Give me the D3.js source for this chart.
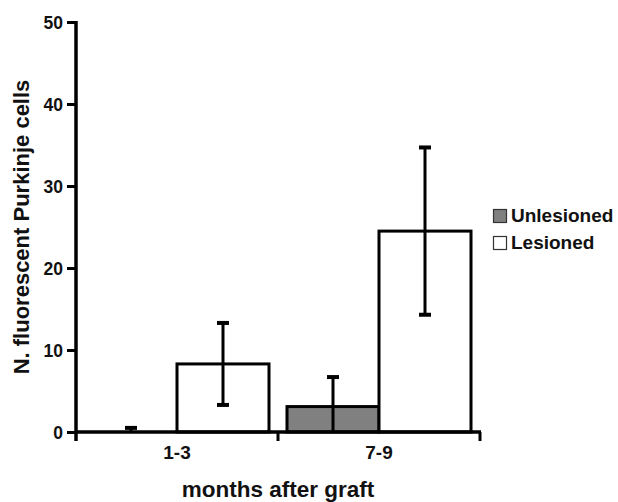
<!DOCTYPE html>
<html>
<head>
<meta charset="utf-8">
<script src="https://cdn.jsdelivr.net/npm/d3@7"></script>
<style>
  html, body { margin: 0; padding: 0; background: #fff; }
  svg { display: block; }
  text { font-family: "Liberation Sans", Arial, Helvetica, sans-serif; font-weight: bold; fill: #111; }
</style>
</head>
<body>
<svg id="chart" width="618" height="502"></svg>
<script>
const categories = ["1-3", "7-9"];
const seriesNames = ["Unlesioned", "Lesioned"];
const unlesionedValues = [0, 3.1];
const unlesionedErrors = [0.5, 3.6];
const lesionedValues = [8.3, 24.5];
const lesionedErrors = [5.0, 10.2];
const yTicks = [0, 10, 20, 30, 40, 50];
const seriesColors = ["#808080", "#ffffff"];

const series = [
  { name: seriesNames[0], values: unlesionedValues, errors: unlesionedErrors, color: seriesColors[0] },
  { name: seriesNames[1], values: lesionedValues, errors: lesionedErrors, color: seriesColors[1] }
];

const svg = d3.select("#chart");
const plotLeft = 76, plotRight = 480, plotTop = 22, plotBottom = 432;

const y = d3.scaleLinear().domain([0, 50]).range([plotBottom, plotTop]);
const x0 = d3.scaleBand().domain(categories).range([plotLeft, plotRight]).paddingInner(0).paddingOuter(0);
const x1 = d3.scaleBand().domain(seriesNames).range([9, x0.bandwidth() - 9]).padding(0);

// bars
series.forEach(s => {
  svg.append("g").selectAll("rect")
    .data(categories.map((c, i) => ({ c, v: s.values[i] })).filter(d => d.v > 0))
    .join("rect")
    .attr("x", d => x0(d.c) + x1(s.name))
    .attr("width", x1.bandwidth())
    .attr("y", d => y(d.v))
    .attr("height", d => plotBottom - y(d.v))
    .attr("fill", s.color)
    .attr("stroke", "#000")
    .attr("stroke-width", 3);
});

// error bars
const capW = 12;
series.forEach(s => {
  categories.forEach((c, i) => {
    const cx = x0(c) + x1(s.name) + x1.bandwidth() / 2;
    const v = s.values[i], e = s.errors[i];
    const lo = Math.max(0, v - e), hi = v + e;
    const g = svg.append("g").attr("stroke", "#000").attr("stroke-width", 3);
    g.append("line").attr("x1", cx).attr("x2", cx).attr("y1", y(lo)).attr("y2", y(hi));
    g.append("line").attr("x1", cx - capW / 2).attr("x2", cx + capW / 2).attr("y1", y(hi)).attr("y2", y(hi)).attr("stroke-width", 4);
    if (v - e > 0) {
      g.append("line").attr("x1", cx - capW / 2).attr("x2", cx + capW / 2).attr("y1", y(lo)).attr("y2", y(lo)).attr("stroke-width", 4);
    }
  });
});

// y axis
const yAxis = svg.append("g")
  .attr("transform", `translate(${plotLeft},0)`)
  .call(d3.axisLeft(y).tickValues(yTicks).tickSize(9).tickSizeOuter(0).tickPadding(4));
yAxis.select(".domain").remove();
yAxis.selectAll(".tick line").attr("stroke", "#000").attr("stroke-width", 3);
yAxis.selectAll(".tick text").style("font-size", "17.5px").attr("dy", "0.36em");
svg.append("line").attr("x1", plotLeft).attr("x2", plotLeft).attr("y1", plotTop - 1).attr("y2", plotBottom + 9)
  .attr("stroke", "#000").attr("stroke-width", 3.5);

// x axis
svg.append("line").attr("x1", plotLeft).attr("x2", plotRight + 1).attr("y1", plotBottom).attr("y2", plotBottom)
  .attr("stroke", "#000").attr("stroke-width", 3.5);
const boundaries = categories.map(c => x0(c)).concat([x0(categories[categories.length - 1]) + x0.bandwidth()]);
svg.append("g").selectAll("line").data(boundaries.slice(1)).join("line")
  .attr("x1", d => d).attr("x2", d => d).attr("y1", plotBottom).attr("y2", plotBottom + 9)
  .attr("stroke", "#000").attr("stroke-width", 3);
const xAxis = svg.append("g")
  .attr("transform", `translate(0,${plotBottom})`)
  .call(d3.axisBottom(x0).tickSize(0).tickPadding(14));
xAxis.select(".domain").remove();
xAxis.selectAll(".tick text").style("font-size", "19px").attr("dy", "0.71em");

// axis titles
svg.append("text").attr("x", (plotLeft + plotRight) / 2).attr("y", 497).attr("text-anchor", "middle")
  .style("font-size", "22.5px").text("months after graft");
svg.append("text").attr("transform", `translate(29,${(plotTop + plotBottom) / 2}) rotate(-90)`)
  .attr("text-anchor", "middle").style("font-size", "22px").text("N. fluorescent Purkinje cells");

// legend
const legend = svg.append("g").attr("transform", "translate(493,209)");
series.forEach((s, i) => {
  const g = legend.append("g").attr("transform", `translate(0,${i * 27})`);
  g.append("rect").attr("x", 0.5).attr("y", 0.5).attr("width", 13).attr("height", 13)
    .attr("fill", s.color).attr("stroke", "#333").attr("stroke-width", 1.2);
  g.append("text").attr("x", 18).attr("y", 12.5).style("font-size", "19px").text(s.name);
});
</script>
</body>
</html>
